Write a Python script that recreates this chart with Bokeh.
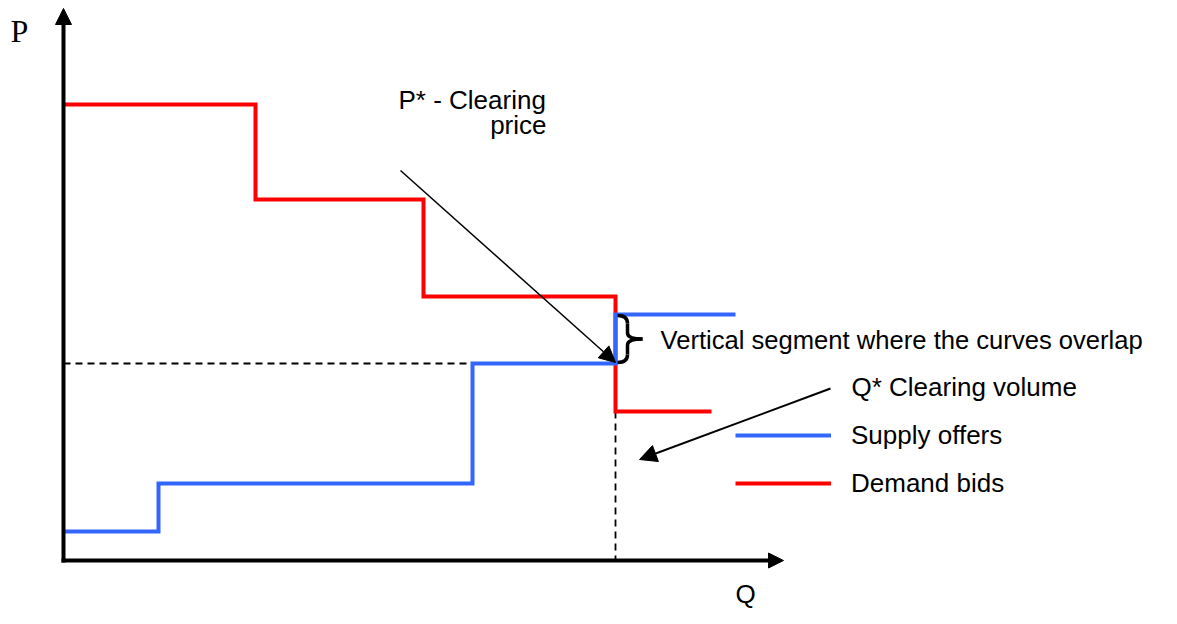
from bokeh.plotting import figure
from bokeh.models import Range1d, Arrow, NormalHead, Label, Legend, LegendItem
from bokeh.embed import file_html
from bokeh.resources import INLINE

# ---- data (schematic units) ----
demand_q = [0.0, 19.2, 36.0, 55.2, 64.8]   # step break points of demand bids
demand_p = [45.6, 36.1, 26.4, 14.9]        # demand price levels
supply_q = [0.0, 9.5, 40.9, 55.2, 67.2]    # step break points of supply offers
supply_p = [2.9, 7.7, 19.7, 24.6]          # supply price levels
q_star = 55.2                               # clearing volume
p_star = 19.7                               # clearing price
axis_q_max = 72.0
axis_p_max = 55.2

labels_legend = ["Supply offers", "Demand bids"]
SUPPLY_COLOR = "#3366ff"
DEMAND_COLOR = "#ff0000"
FONT = "Liberation Sans"
FS = "26px"


def step_path(q, p):
    xs, ys = [], []
    for i, level in enumerate(p):
        xs += [q[i], q[i + 1]]
        ys += [level, level]
    return xs, ys


# helpers to place annotations (1 unit = 10 px, origin at axes corner)
def X(px):
    return (px - 63) / 10.0


def Y(py):
    return (560 - py) / 10.0


W, H = 1161, 608
p = figure(width=W, height=H, x_range=Range1d(X(0), X(W)),
           y_range=Range1d(Y(H), Y(0)), x_axis_type=None, y_axis_type=None,
           output_backend="svg", toolbar_location=None, min_border=0)
p.outline_line_color = None
p.background_fill_color = "white"

# dashed guide lines
p.line([0, q_star], [p_star, p_star], line_color="black", line_width=1.8, line_dash="7 5")
p.line([q_star, q_star], [demand_p[-1], 0], line_color="black", line_width=1.8, line_dash="7 5")

# curves
dx, dy = step_path(demand_q, demand_p)
sx, sy = step_path(supply_q, supply_p)
demand_r = p.line(dx, dy, line_color=DEMAND_COLOR, line_width=4, line_join="miter")
supply_r = p.line(sx, sy, line_color=SUPPLY_COLOR, line_width=4, line_join="miter")

# axes with arrow heads
p.add_layout(Arrow(end=NormalHead(size=16, fill_color="black", line_color="black", line_width=1),
                   x_start=0, y_start=-0.2, x_end=0, y_end=axis_p_max,
                   line_width=4, line_color="black"))
p.add_layout(Arrow(end=NormalHead(size=15, fill_color="black", line_color="black", line_width=1),
                   x_start=-0.2, y_start=0, x_end=axis_q_max, y_end=0,
                   line_width=4, line_color="black"))

# brace for the overlapping vertical segment
bt, bb = supply_p[-1] - 0.1, p_star + 0.1
bm = (bt + bb) / 2
x0, x1, x2 = q_star + 0.2, q_star + 1.2, q_star + 2.7
p.quadratic(x0=[x0, x1, x2, x1], y0=[bt, bm + 0.6, bm, bb + 0.8],
            x1=[x1, x2, x1, x0], y1=[bt - 0.8, bm, bm - 0.6, bb],
            cx=[x1, x1, x1, x1], cy=[bt, bm, bm, bb],
            line_color="black", line_width=3.5)
p.segment(x0=[x1, x1], y0=[bt - 0.8, bm - 0.6], x1=[x1, x1], y1=[bm + 0.6, bb + 0.8],
          line_color="black", line_width=3.5)

# pointer arrows
p.add_layout(Arrow(end=NormalHead(size=16, fill_color="black", line_color="black", line_width=1),
                   x_start=X(400), y_start=Y(170), x_end=q_star, y_end=p_star + 0.1,
                   line_width=1.5, line_color="black"))
p.add_layout(Arrow(end=NormalHead(size=17, fill_color="black", line_color="black", line_width=1),
                   x_start=X(830), y_start=Y(388), x_end=X(639), y_end=Y(459),
                   line_width=2, line_color="black"))

# texts (y given as the vertical middle of the text line)
def lab(x, y, t, align="left", font=FONT, size=FS):
    p.add_layout(Label(x=x, y=y, text=t, text_font=font, text_font_size=size,
                       text_align=align, text_baseline="middle", text_color="black"))

lab(X(10), Y(30), "P", font="Liberation Serif", size="32px")
lab(X(735), Y(593), "Q")
lab(X(398), Y(99.5), "P* - Clearing")
lab(X(546), Y(124.5), "price", align="right")
lab(X(660), Y(339.5), "Vertical segment where the curves overlap", size="25.6px")
lab(X(851), Y(386), "Q* Clearing volume")

legend = Legend(items=[LegendItem(label=labels_legend[0], renderers=[supply_r]),
                       LegendItem(label=labels_legend[1], renderers=[demand_r])],
                location=(735, H - 507), glyph_width=96, glyph_height=48, spacing=0,
                padding=0, margin=0, label_standoff=20, label_text_font=FONT,
                label_text_font_size=FS, label_text_color="black",
                border_line_color=None, background_fill_alpha=0)
p.add_layout(legend)

open("out.html", "w").write(file_html(p, INLINE))
